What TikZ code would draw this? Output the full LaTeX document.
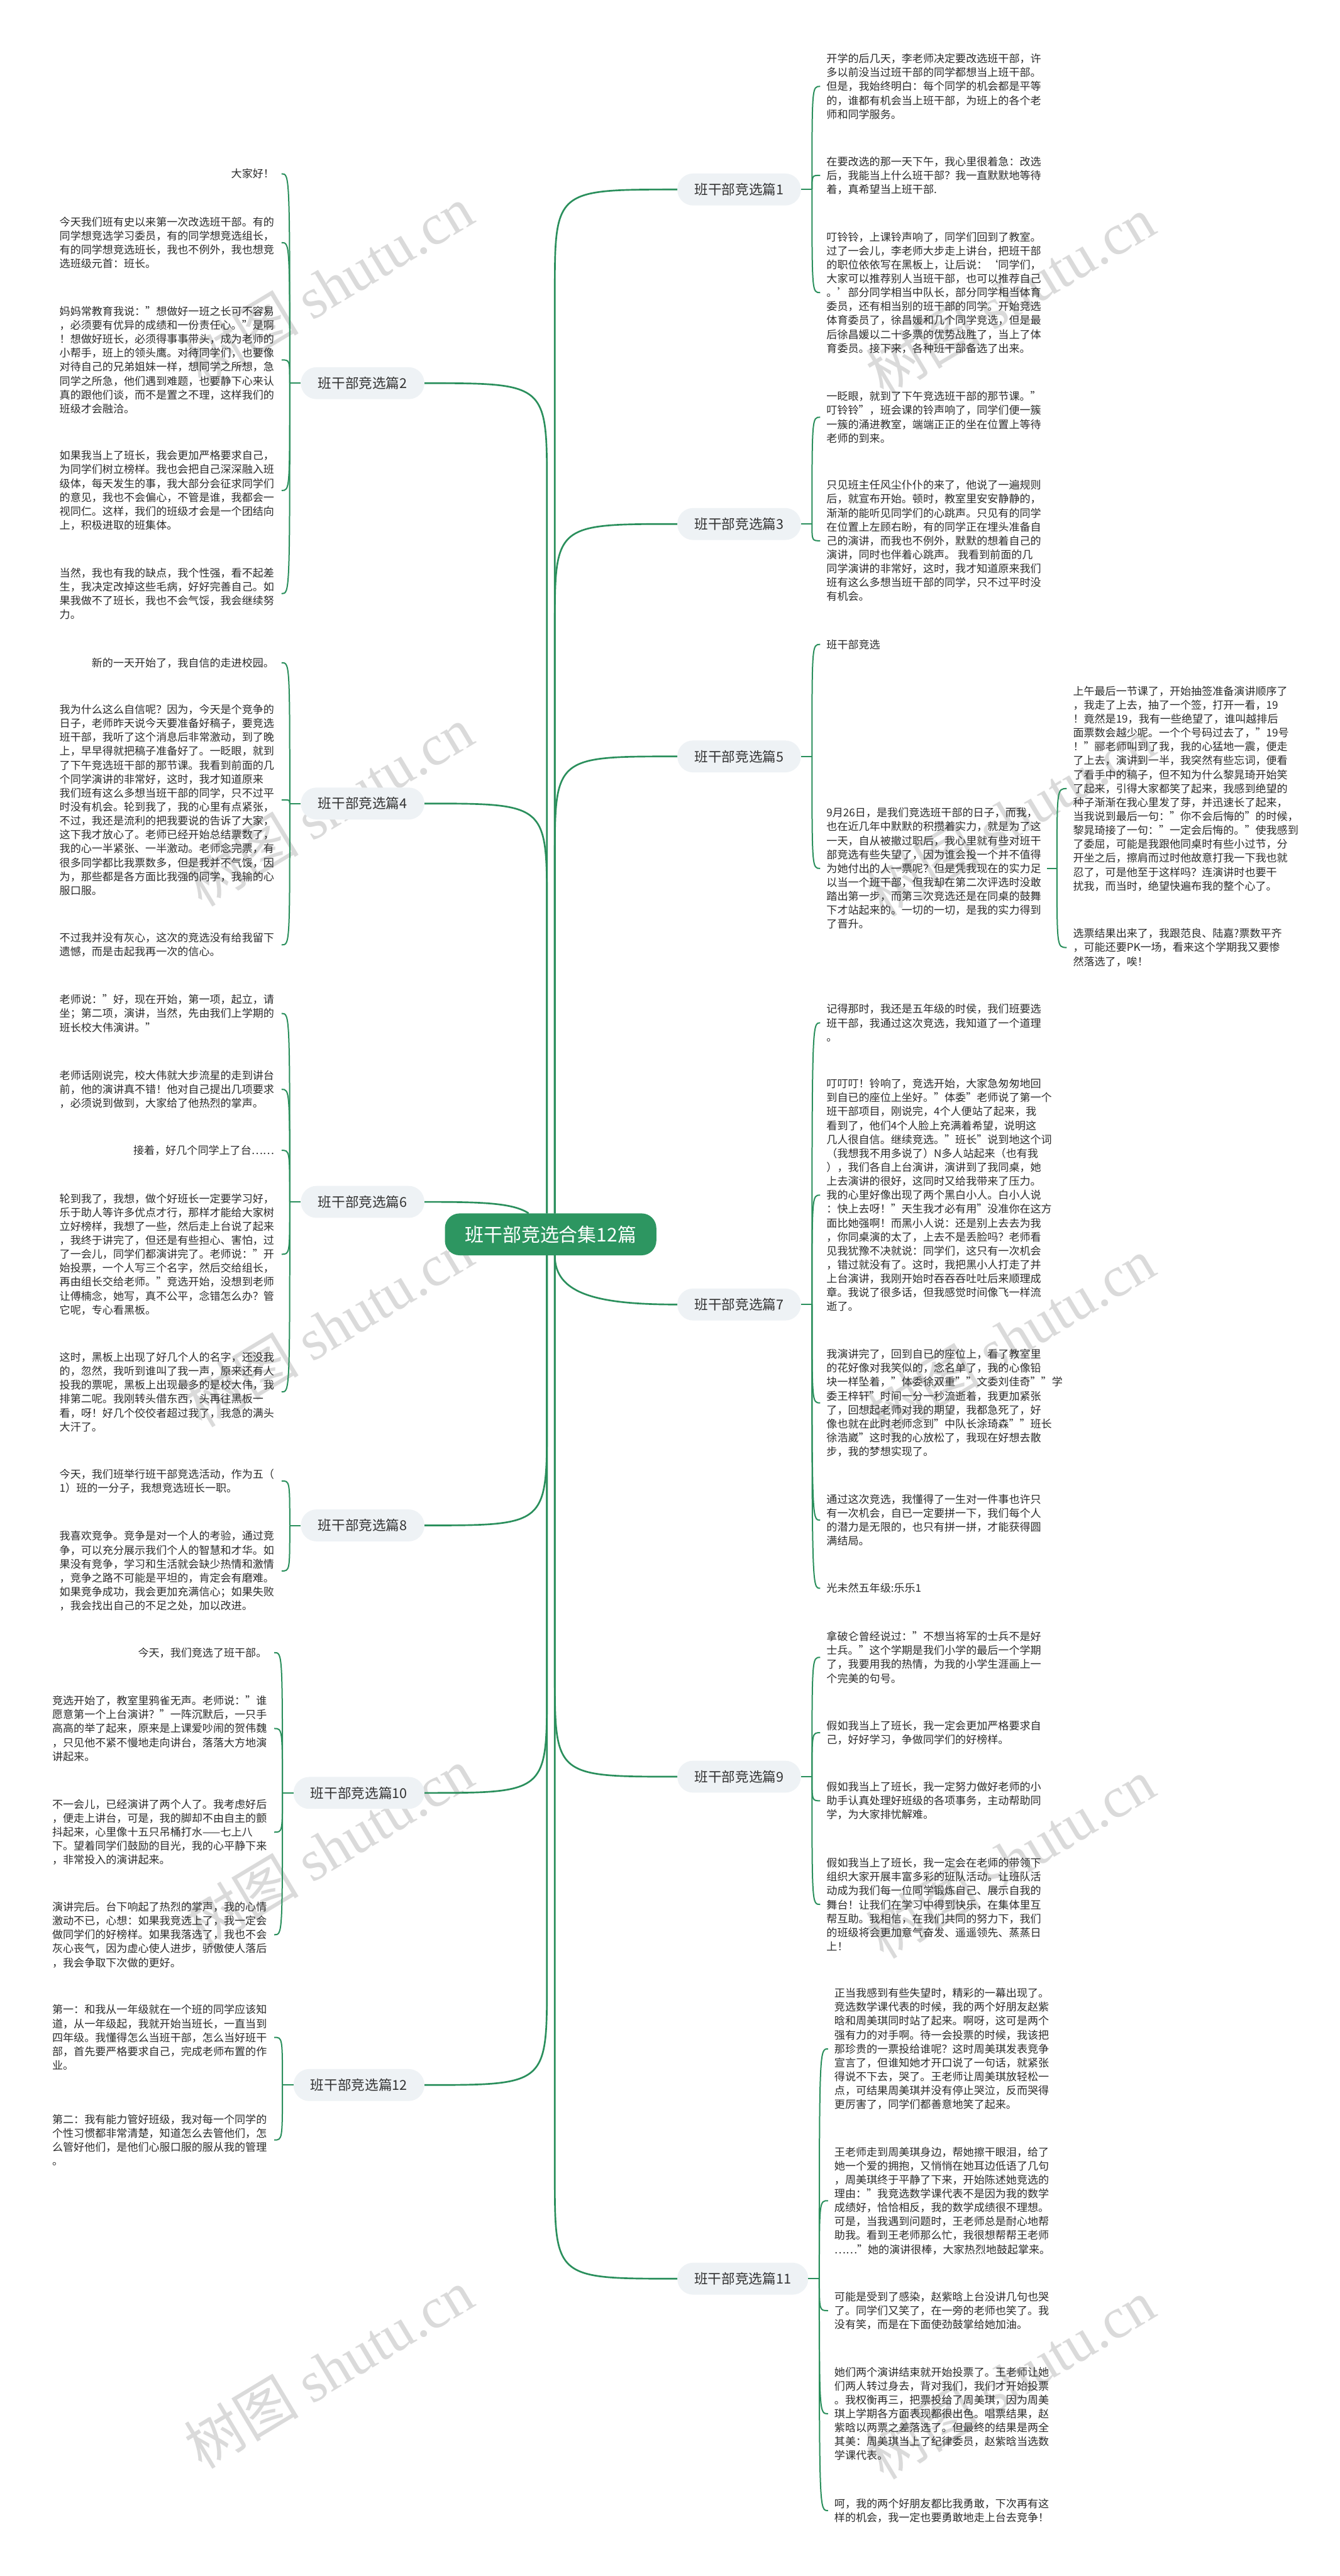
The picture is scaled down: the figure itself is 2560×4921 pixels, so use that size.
\documentclass[tikz,border=0pt]{standalone}
\usepackage{fontspec}
\setmainfont{Noto Sans CJK SC}
\newfontfamily\wmserif{Liberation Serif}
\usetikzlibrary{calc}
\definecolor{lc}{HTML}{2A8F5C}
\definecolor{rootc}{HTML}{2D9661}
\definecolor{brfill}{HTML}{EEF2F5}
\definecolor{brtxt}{HTML}{333333}
\definecolor{txtc}{HTML}{2B2B2B}
\definecolor{wm}{HTML}{DADADA}
\newcommand\bodyfont{\fontsize{20.5pt}{26.6pt}\selectfont}
\newcommand\brfont{\fontsize{26pt}{30pt}\selectfont}
\newcommand\rootfont{\fontsize{36pt}{40pt}\selectfont}
\newcommand\wmfont{\fontsize{110pt}{120pt}\selectfont}
\newcommand\mylk[2]{\draw[kidline] (#1) .. controls (#1 |- #2.east) .. ($(#2.east)+(14,0)$);}
\newcommand\myrk[2]{\draw[kidline] (#1) .. controls (#1 |- #2.west) .. ($(#2.west)+(-12,0)$);}
\newcommand\mylstub[2]{\coordinate (#2) at ($(#1.west)+(-21,0)$); \draw[kidline] (#1.west) -- (#2);}
\newcommand\myrstub[2]{\coordinate (#2) at ($(#1.east)+(21,0)$); \draw[kidline] (#1.east) -- (#2);}
\newcommand\myup[2]{\draw[rootline] (#1) -- ($(#1 |- #2)+(0,200)$) .. controls (#1 |- #2) .. (#2);}
\newcommand\mydn[2]{\draw[rootline] (#1) -- ($(#1 |- #2)+(0,-200)$) .. controls (#1 |- #2) .. (#2);}
\begin{document}
\begin{tikzpicture}[x=1pt,y=-1pt,
  kidline/.style={draw=lc,line width=2.4pt},
  rootline/.style={draw=lc,line width=3.2pt},
  bodytxt/.style={font=\bodyfont,text=txtc,inner sep=0pt,align=left},
  ltxt/.style={bodytxt,anchor=east},
  rtxt/.style={bodytxt,anchor=west},
  brnode/.style={fill=brfill,rounded corners=30pt,minimum height=61pt,minimum width=236pt,font=\brfont,text=brtxt,inner sep=0pt},
  brwide/.style={brnode,minimum width=250pt},
  rootnode/.style={fill=rootc,rounded corners=28pt,minimum width=404pt,minimum height=80pt,font=\rootfont,text=white,inner sep=0pt},
  wmark/.style={text=wm,font=\wmfont,rotate=31,inner sep=0pt}]
\fill[white] (0,0) rectangle (2560,4921);
\useasboundingbox (0,0) rectangle (2560,4921);
% watermarks
\foreach \yy in {545,1540,2535,3530,4525}{
  \node[wmark] (wl\yy) at (628,\yy) {树图 {\wmserif shutu.cn}};
  \node[wmark] (wr\yy) at (1930,\yy+20) {树图 {\wmserif shutu.cn}};
}
% root and branches
\node[rootnode] (root) at (1052,2358) {班干部竞选合集12篇};
\node[brnode,anchor=east] (n2) at (811,732) {班干部竞选篇2};
\node[brnode,anchor=east] (n4) at (811,1535) {班干部竞选篇4};
\node[brnode,anchor=east] (n6) at (811,2296) {班干部竞选篇6};
\node[brnode,anchor=east] (n8) at (811,2914) {班干部竞选篇8};
\node[brwide,anchor=east] (n10) at (811,3425) {班干部竞选篇10};
\node[brwide,anchor=east] (n12) at (811,3983) {班干部竞选篇12};
\node[brnode,anchor=west] (n1) at (1294,362) {班干部竞选篇1};
\node[brnode,anchor=west] (n3) at (1294,1001) {班干部竞选篇3};
\node[brnode,anchor=west] (n5) at (1294,1445) {班干部竞选篇5};
\node[brnode,anchor=west] (n7) at (1294,2492) {班干部竞选篇7};
\node[brnode,anchor=west] (n9) at (1294,3394) {班干部竞选篇9};
\node[brwide,anchor=west] (n11) at (1294,4353) {班干部竞选篇11};
% root connectors
\coordinate (rtL) at ($(root.north)+(-7,0)$);
\coordinate (rtR) at ($(root.north)+(8,0)$);
\coordinate (rbL) at ($(root.south)+(-7,0)$);
\coordinate (rbR) at ($(root.south)+(8,0)$);
\coordinate (r6) at ($(root.north)+(-42,0)$);
\myup{rtL}{n2.east}
\myup{rtL}{n4.east}
\myup{rtR}{n1.west}
\myup{rtR}{n3.west}
\myup{rtR}{n5.west}
\mydn{rbL}{n8.east}
\mydn{rbL}{n10.east}
\mydn{rbL}{n12.east}
\mydn{rbR}{n9.west}
\mydn{rbR}{n11.west}
\draw[rootline] (n6.east) .. controls +(110,0) and +(-30,-20) .. (r6);
\draw[rootline] (rbR) .. controls +(0,75) and +(-150,0) .. (n7.west);
% ---------- left texts ----------
\node[ltxt] (t2a) at (524,332) {大家好！};
\node[ltxt] (t2b) at (524,463.5) {今天我们班有史以来第一次改选班干部。有的\\同学想竞选学习委员，有的同学想竞选组长，\\有的同学想竞选班长，我也不例外，我也想竞\\选班级元首：班长。};
\node[ltxt] (t2c) at (524,687.6) {妈妈常教育我说："想做好一班之长可不容易\\，必须要有优异的成绩和一份责任心。"是啊\\！想做好班长，必须得事事带头，成为老师的\\小帮手，班上的领头鹰。对待同学们，也要像\\对待自己的兄弟姐妹一样，想同学之所想，急\\同学之所急，他们遇到难题，也要静下心来认\\真的跟他们谈，而不是置之不理，这样我们的\\班级才会融洽。};
\node[ltxt] (t2d) at (524,937) {如果我当上了班长，我会更加严格要求自己，\\为同学们树立榜样。我也会把自己深深融入班\\级体，每天发生的事，我大部分会征求同学们\\的意见，我也不会偏心，不管是谁，我都会一\\视同仁。这样，我们的班级才会是一个团结向\\上，积极进取的班集体。};
\node[ltxt] (t2e) at (524,1134) {当然，我也有我的缺点，我个性强，看不起差\\生，我决定改掉这些毛病，好好完善自己。如\\果我做不了班长，我也不会气馁，我会继续努\\力。};
\node[ltxt] (t4a) at (524,1266) {新的一天开始了，我自信的走进校园。};
\node[ltxt] (t4b) at (524,1528) {我为什么这么自信呢？因为，今天是个竞争的\\日子，老师昨天说今天要准备好稿子，要竞选\\班干部，我听了这个消息后非常激动，到了晚\\上，早早得就把稿子准备好了。一眨眼，就到\\了下午竞选班干部的那节课。我看到前面的几\\个同学演讲的非常好，这时，我才知道原来\\我们班有这么多想当班干部的同学，只不过平\\时没有机会。轮到我了，我的心里有点紧张，\\不过，我还是流利的把我要说的告诉了大家，\\这下我才放心了。老师已经开始总结票数了，\\我的心一半紧张、一半激动。老师念完票，有\\很多同学都比我票数多，但是我并不气馁，因\\为，那些都是各方面比我强的同学，我输的心\\服口服。};
\node[ltxt] (t4c) at (524,1805) {不过我并没有灰心，这次的竞选没有给我留下\\遗憾，而是击起我再一次的信心。};
\node[ltxt] (t6a) at (524,1936) {老师说："好，现在开始，第一项，起立，请\\坐；第二项，演讲，当然，先由我们上学期的\\班长校大伟演讲。"};
\node[ltxt] (t6b) at (524,2081) {老师话刚说完，校大伟就大步流星的走到讲台\\前，他的演讲真不错！他对自己提出几项要求\\，必须说到做到，大家给了他热烈的掌声。};
\node[ltxt] (t6c) at (524,2197.5) {接着，好几个同学上了台……};
\node[ltxt] (t6d) at (524,2396) {轮到我了，我想，做个好班长一定要学习好，\\乐于助人等许多优点才行，那样才能给大家树\\立好榜样，我想了一些，然后走上台说了起来\\，我终于讲完了，但还是有些担心、害怕，过\\了一会儿，同学们都演讲完了。老师说："开\\始投票，一个人写三个名字，然后交给组长，\\再由组长交给老师。"竞选开始，没想到老师\\让傅楠念，她写，真不公平，念错怎么办？管\\它呢，专心看黑板。};
\node[ltxt] (t6e) at (524,2659) {这时，黑板上出现了好几个人的名字，还没我\\的，忽然，我听到谁叫了我一声，原来还有人\\投我的票呢，黑板上出现最多的是校大伟，我\\排第二呢。我刚转头借东西，头再往黑板一\\看，呀！好几个佼佼者超过我了，我急的满头\\大汗了。};
\node[ltxt] (t8a) at (524,2829) {今天，我们班举行班干部竞选活动，作为五（\\1）班的一分子，我想竞选班长一职。};
\node[ltxt] (t8b) at (524,3001) {我喜欢竞争。竞争是对一个人的考验，通过竞\\争，可以充分展示我们个人的智慧和才华。如\\果没有竞争，学习和生活就会缺少热情和激情\\，竞争之路不可能是平坦的，肯定会有磨难。\\如果竞争成功，我会更加充满信心；如果失败\\，我会找出自己的不足之处，加以改进。};
\node[ltxt] (t10a) at (510,3157) {今天，我们竞选了班干部。};
\node[ltxt] (t10b) at (510,3302) {竞选开始了，教室里鸦雀无声。老师说："谁\\愿意第一个上台演讲？"一阵沉默后，一只手\\高高的举了起来，原来是上课爱吵闹的贺伟魏\\，只见他不紧不慢地走向讲台，落落大方地演\\讲起来。};
\node[ltxt] (t10c) at (510,3500) {不一会儿，已经演讲了两个人了。我考虑好后\\，便走上讲台，可是，我的脚却不由自主的颤\\抖起来，心里像十五只吊桶打水——七上八\\下。望着同学们鼓励的目光，我的心平静下来\\，非常投入的演讲起来。};
\node[ltxt] (t10d) at (510,3696) {演讲完后。台下响起了热烈的掌声，我的心情\\激动不已，心想：如果我竞选上了，我一定会\\做同学们的好榜样。如果我落选了，我也不会\\灰心丧气，因为虚心使人进步，骄傲使人落后\\，我会争取下次做的更好。};
\node[ltxt] (t12a) at (510,3892) {第一：和我从一年级就在一个班的同学应该知\\道，从一年级起，我就开始当班长，一直当到\\四年级。我懂得怎么当班干部，怎么当好班干\\部，首先要严格要求自己，完成老师布置的作\\业。};
\node[ltxt] (t12b) at (510,4088) {第二：我有能力管好班级，我对每一个同学的\\个性习惯都非常清楚，知道怎么去管他们，怎\\么管好他们，是他们心服口服的服从我的管理\\。};
% ---------- right texts ----------
\node[rtxt] (t1a) at (1579,165) {开学的后几天，李老师决定要改选班干部，许\\多以前没当过班干部的同学都想当上班干部。\\但是，我始终明白：每个同学的机会都是平等\\的，谁都有机会当上班干部，为班上的各个老\\师和同学服务。};
\node[rtxt] (t1b) at (1579,335) {在要改选的那一天下午，我心里很着急：改选\\后，我能当上什么班干部？我一直默默地等待\\着，真希望当上班干部.};
\node[rtxt] (t1c) at (1579,559) {叮铃铃，上课铃声响了，同学们回到了教室。\\过了一会儿，李老师大步走上讲台，把班干部\\的职位依依写在黑板上，让后说：‘同学们，\\大家可以推荐别人当班干部，也可以推荐自己\\。’部分同学相当中队长，部分同学相当体育\\委员，还有相当别的班干部的同学。开始竞选\\体育委员了，徐昌媛和几个同学竞选，但是最\\后徐昌媛以二十多票的优势战胜了，当上了体\\育委员。接下来，各种班干部备选了出来。};
\node[rtxt] (t3a) at (1579,797) {一眨眼，就到了下午竞选班干部的那节课。"\\叮铃铃"，班会课的铃声响了，同学们便一簇\\一簇的涌进教室，端端正正的坐在位置上等待\\老师的到来。};
\node[rtxt] (t3b) at (1579,1033) {只见班主任风尘仆仆的来了，他说了一遍规则\\后，就宣布开始。顿时，教室里安安静静的，\\渐渐的能听见同学们的心跳声。只见有的同学\\在位置上左顾右盼，有的同学正在埋头准备自\\己的演讲，而我也不例外，默默的想着自己的\\演讲，同时也伴着心跳声。 我看到前面的几\\同学演讲的非常好，这时，我才知道原来我们\\班有这么多想当班干部的同学，只不过平时没\\有机会。};
\node[rtxt] (t5a) at (1579,1231) {班干部竞选};
\node[rtxt] (t5b) at (1579,1659) {9月26日，是我们竞选班干部的日子，而我，\\也在近几年中默默的积攒着实力，就是为了这\\一天，自从被撤过职后，我心里就有些对班干\\部竞选有些失望了，因为谁会投一个并不值得\\为她付出的人一票呢？但是凭我现在的实力足\\以当一个班干部，但我却在第二次评选时没敢\\踏出第一步，而第三次竞选还是在同桌的鼓舞\\下才站起来的。一切的一切，是我的实力得到\\了晋升。};
\node[rtxt] (t5c) at (2050,1506.5) {上午最后一节课了，开始抽签准备演讲顺序了\\，我走了上去，抽了一个签，打开一看，19\\！竟然是19，我有一些绝望了，谁叫越排后\\面票数会越少呢。一个个号码过去了，"19号\\！"郦老师叫到了我，我的心猛地一震，便走\\了上去，演讲到一半，我突然有些忘词，便看\\了看手中的稿子，但不知为什么黎晁琦开始笑\\了起来，引得大家都笑了起来，我感到绝望的\\种子渐渐在我心里发了芽，并迅速长了起来，\\当我说到最后一句："你不会后悔的"的时候，\\黎晁琦接了一句："一定会后悔的。"使我感到\\了委屈，可能是我跟他同桌时有些小过节，分\\开坐之后，擦肩而过时他故意打我一下我也就\\忍了，可是他至于这样吗？连演讲时也要干\\扰我，而当时，绝望快遍布我的整个心了。};
\node[rtxt] (t5d) at (2050,1810) {选票结果出来了，我跟范良、陆嘉?票数平齐\\，可能还要PK一场，看来这个学期我又要惨\\然落选了，唉！};
\node[rtxt] (t7a) at (1579,1954) {记得那时，我还是五年级的时侯，我们班要选\\班干部，我通过这次竞选，我知道了一个道理\\。};
\node[rtxt] (t7b) at (1579,2283) {叮叮叮！铃响了，竞选开始，大家急匆匆地回\\到自已的座位上坐好。"体委"老师说了第一个\\班干部项目，刚说完，4个人便站了起来，我\\看到了，他们4个人脸上充满着希望，说明这\\几人很自信。继续竞选。"班长"说到地这个词\\（我想我不用多说了）N多人站起来（也有我\\），我们各自上台演讲，演讲到了我同桌，她\\上去演讲的很好，这同时又给我带来了压力。\\我的心里好像出现了两个黑白小人。白小人说\\：快上去呀！"天生我才必有用"没准你在这方\\面比她强啊！而黑小人说：还是别上去去为我\\，你同桌演的太了，上去不是丢脸吗？老师看\\见我犹豫不决就说：同学们，这只有一次机会\\，错过就没有了。这时，我把黑小人打走了并\\上台演讲，我刚开始时吞吞吞吐吐后来顺理成\\章。我说了很多话，但我感觉时间像飞一样流\\逝了。};
\node[rtxt] (t7c) at (1579,2680) {我演讲完了，回到自已的座位上，看了教室里\\的花好像对我笑似的，念名单了，我的心像铅\\块一样坠着，"体委徐双重""文委刘佳奇""学\\委王梓轩"时间一分一秒流逝着，我更加紧张\\了，回想起老师对我的期望，我都急死了，好\\像也就在此时老师念到"中队长涂琦森""班长\\徐浩崴"这时我的心放松了，我现在好想去散\\步，我的梦想实现了。};
\node[rtxt] (t7d) at (1579,2904) {通过这次竞选，我懂得了一生对一件事也许只\\有一次机会，自已一定要拼一下，我们每个人\\的潜力是无限的，也只有拼一拼，才能获得圆\\满结局。};
\node[rtxt] (t7e) at (1579,3034) {光未然五年级:乐乐1};
\node[rtxt] (t9a) at (1579,3166) {拿破仑曾经说过："不想当将军的士兵不是好\\士兵。"这个学期是我们小学的最后一个学期\\了，我要用我的热情，为我的小学生涯画上一\\个完美的句号。};
\node[rtxt] (t9b) at (1579,3310) {假如我当上了班长，我一定会更加严格要求自\\己，好好学习，争做同学们的好榜样。};
\node[rtxt] (t9c) at (1579,3440) {假如我当上了班长，我一定努力做好老师的小\\助手认真处理好班级的各项事务，主动帮助同\\学，为大家排忧解难。};
\node[rtxt] (t9d) at (1579,3638) {假如我当上了班长，我一定会在老师的带领下\\组织大家开展丰富多彩的班队活动。让班队活\\动成为我们每一位同学锻炼自己、展示自我的\\舞台！让我们在学习中得到快乐，在集体里互\\帮互助。我相信，在我们共同的努力下，我们\\的班级将会更加意气奋发、遥遥领先、蒸蒸日\\上！};
\node[rtxt] (t11a) at (1594,3914) {正当我感到有些失望时，精彩的一幕出现了。\\竞选数学课代表的时候，我的两个好朋友赵紫\\晗和周美琪同时站了起来。啊呀，这可是两个\\强有力的对手啊。待一会投票的时候，我该把\\那珍贵的一票投给谁呢？这时周美琪发表竞争\\宣言了，但谁知她才开口说了一句话，就紧张\\得说不下去，哭了。王老师让周美琪放轻松一\\点，可结果周美琪并没有停止哭泣，反而哭得\\更厉害了，同学们都善意地笑了起来。};
\node[rtxt] (t11b) at (1594,4204) {王老师走到周美琪身边，帮她擦干眼泪，给了\\她一个爱的拥抱，又悄悄在她耳边低语了几句\\，周美琪终于平静了下来，开始陈述她竞选的\\理由："我竞选数学课代表不是因为我的数学\\成绩好，恰恰相反，我的数学成绩很不理想。\\可是，当我遇到问题时，王老师总是耐心地帮\\助我。看到王老师那么忙，我很想帮帮王老师\\……"她的演讲很棒，大家热烈地鼓起掌来。};
\node[rtxt] (t11c) at (1594,4414) {可能是受到了感染，赵紫晗上台没讲几句也哭\\了。同学们又笑了，在一旁的老师也笑了。我\\没有笑，而是在下面使劲鼓掌给她加油。};
\node[rtxt] (t11d) at (1594,4611) {她们两个演讲结束就开始投票了。王老师让她\\们两人转过身去，背对我们，我们才开始投票\\。我权衡再三，把票投给了周美琪，因为周美\\琪上学期各方面表现都很出色。唱票结果，赵\\紫晗以两票之差落选了。但最终的结果是两全\\其美：周美琪当上了纪律委员，赵紫晗当选数\\学课代表。};
\node[rtxt] (t11e) at (1594,4796) {呵，我的两个好朋友都比我勇敢，下次再有这\\样的机会，我一定也要勇敢地走上台去竞争！};
% ---------- child connectors ----------
\mylstub{n2}{b2}
\mylk{b2}{t2a} \mylk{b2}{t2b} \mylk{b2}{t2c} \mylk{b2}{t2d} \mylk{b2}{t2e}
\mylstub{n4}{b4}
\mylk{b4}{t4a} \mylk{b4}{t4b} \mylk{b4}{t4c}
\mylstub{n6}{b6}
\mylk{b6}{t6a} \mylk{b6}{t6b} \mylk{b6}{t6c} \mylk{b6}{t6d} \mylk{b6}{t6e}
\mylstub{n8}{b8}
\mylk{b8}{t8a} \mylk{b8}{t8b}
\mylstub{n10}{b10}
\mylk{b10}{t10a} \mylk{b10}{t10b} \mylk{b10}{t10c} \mylk{b10}{t10d}
\mylstub{n12}{b12}
\mylk{b12}{t12a} \mylk{b12}{t12b}
\myrstub{n1}{b1}
\myrk{b1}{t1a} \myrk{b1}{t1b} \myrk{b1}{t1c}
\myrstub{n3}{b3}
\myrk{b3}{t3a} \myrk{b3}{t3b}
\myrstub{n5}{b5}
\myrk{b5}{t5a} \myrk{b5}{t5b}
\coordinate (b5s) at ($(t5b.east)+(30,0)$);
\draw[kidline] ($(t5b.east)+(11,0)$) -- (b5s);
\myrk{b5s}{t5c} \myrk{b5s}{t5d}
\myrstub{n7}{b7}
\myrk{b7}{t7a} \myrk{b7}{t7b} \myrk{b7}{t7c} \myrk{b7}{t7d} \myrk{b7}{t7e}
\myrstub{n9}{b9}
\myrk{b9}{t9a} \myrk{b9}{t9b} \myrk{b9}{t9c} \myrk{b9}{t9d}
\myrstub{n11}{b11}
\myrk{b11}{t11a} \myrk{b11}{t11b} \myrk{b11}{t11c} \myrk{b11}{t11d} \myrk{b11}{t11e}
\end{tikzpicture}
\end{document}
